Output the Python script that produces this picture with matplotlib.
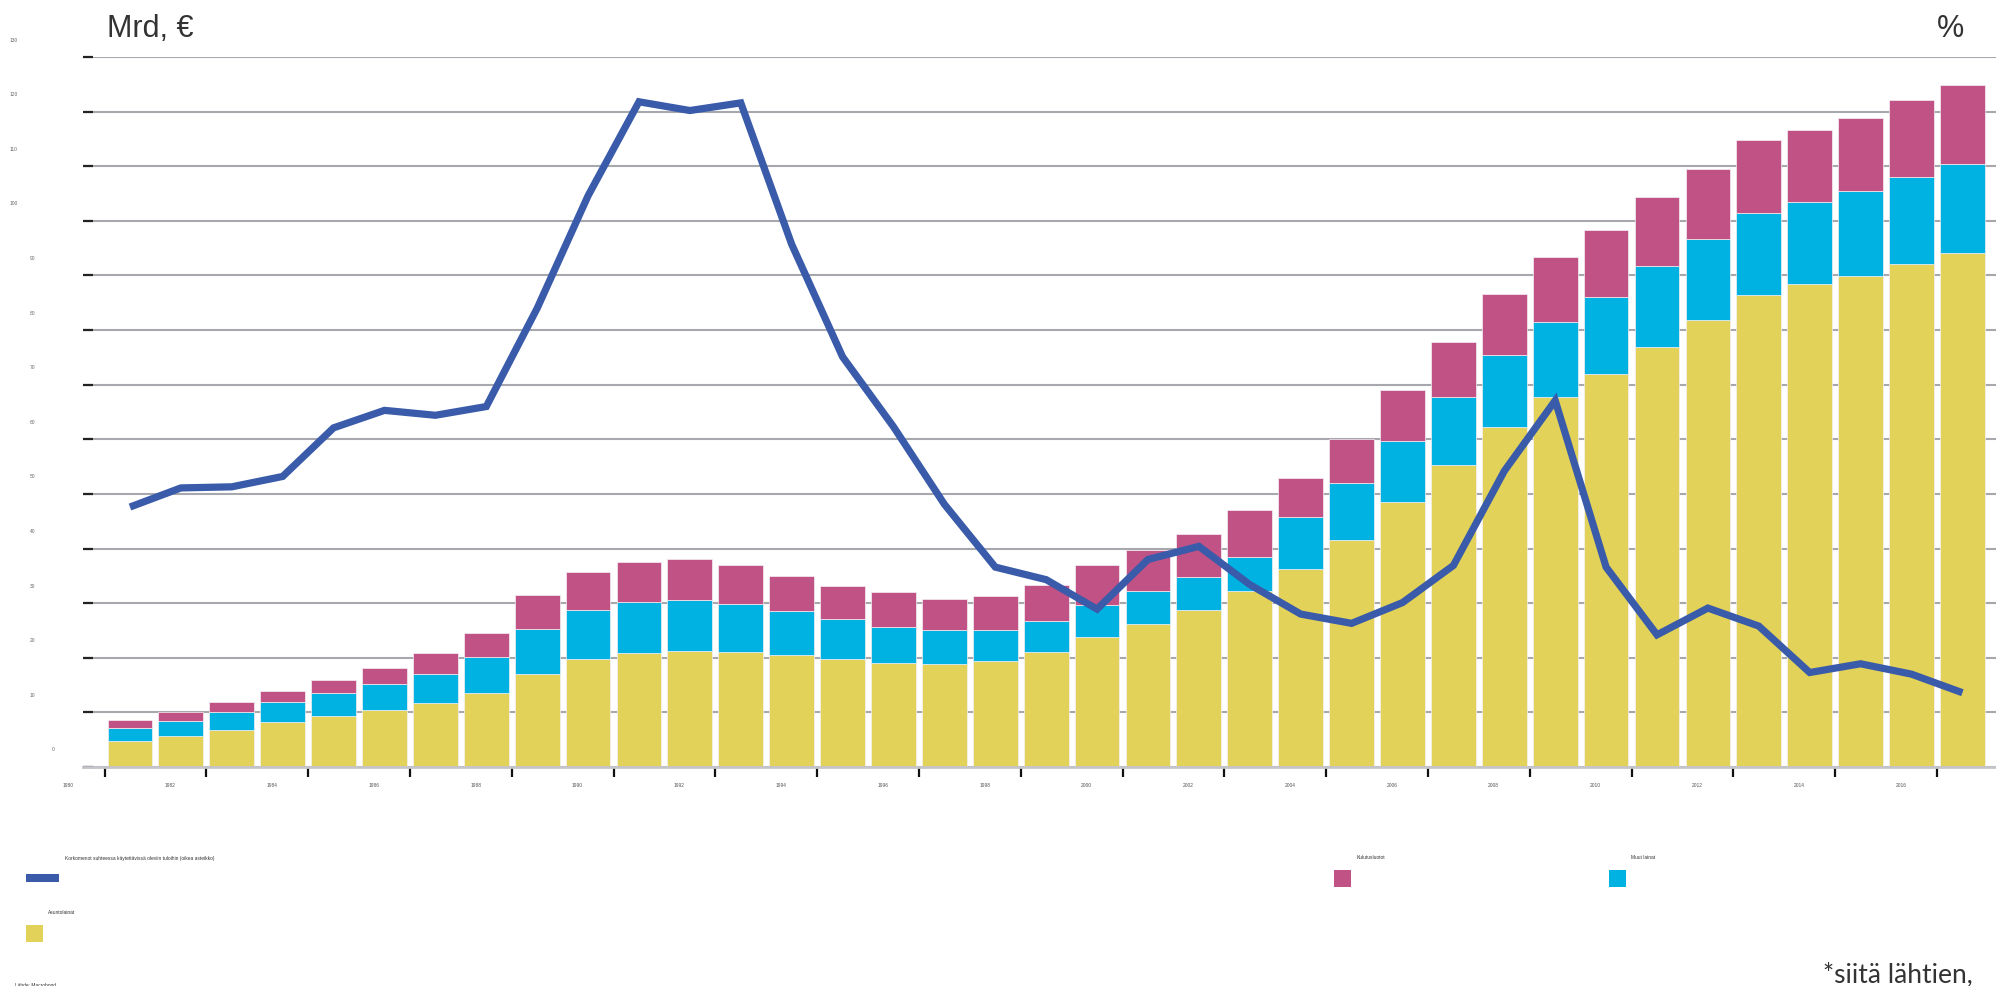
import matplotlib
matplotlib.use("Agg")
import matplotlib.pyplot as plt
import matplotlib.transforms as mtransforms
from matplotlib.patches import Rectangle
import numpy as np

years = list(range(1980, 2017))

# stacked totals (Mrd €)
housing = [4.7, 5.6, 6.7, 8.2, 9.3, 10.5, 11.7, 13.5, 17.0, 19.8, 20.8, 21.2, 21.0, 20.5,
           19.8, 19.1, 18.9, 19.4, 21.0, 23.8, 26.1, 28.7, 32.2, 36.2, 41.5, 48.5, 55.3,
           62.2, 67.7, 72.0, 76.9, 81.8, 86.4, 88.5, 89.9, 92.1, 94.1]
other_top = [7.1, 8.4, 10.0, 11.9, 13.5, 15.2, 17.0, 20.1, 25.2, 28.7, 30.3, 30.6, 29.9, 28.5,
             27.1, 25.7, 25.0, 25.0, 26.8, 29.6, 32.2, 34.8, 38.5, 45.7, 52.0, 59.7, 67.7,
             75.5, 81.4, 86.0, 91.8, 96.7, 101.5, 103.5, 105.4, 108.0, 110.4]
consumer_top = [8.6, 10.1, 11.9, 14.0, 15.9, 18.2, 20.8, 24.5, 31.5, 35.7, 37.6, 38.0, 36.9, 35.0,
                33.1, 32.0, 30.8, 31.3, 33.4, 36.9, 39.7, 42.7, 47.1, 53.0, 60.0, 69.1, 77.9,
                86.6, 93.4, 98.4, 104.4, 109.5, 114.8, 116.7, 118.8, 122.1, 124.9]
other = [t - h for t, h in zip(other_top, housing)]
consumer = [t - o for t, o in zip(consumer_top, other_top)]

# interest expenses vs disposable income (right scale, plotted in the same pixel space)
interest = [47.6, 51.1, 51.3, 53.2, 62.1, 65.3, 64.4, 66.0, 84.0, 104.6, 121.8, 120.2, 121.6, 95.7,
            75.1, 62.3, 48.1, 36.6, 34.3, 28.9, 38.0, 40.4, 33.4, 28.0, 26.3, 30.1, 36.9,
            54.2, 67.1, 36.6, 24.2, 29.1, 25.8, 17.3, 18.9, 17.0, 13.6]

yticks = list(range(0, 140, 10))
xtick_years = list(range(1980, 2018, 2))

c_yellow = "#E2D259"
c_cyan = "#00B2E2"
c_pink = "#C05285"
c_blue = "#3A5BAA"

W, H = 1996, 987
fig = plt.figure(figsize=(W / 100, H / 100), dpi=100)
ax = fig.add_axes([83 / W, 1 - 768 / H, (W - 83) / W, (768 - 58) / H])

x = np.arange(len(years))
bw = 0.88
ax.bar(x, housing, bw, color=c_yellow, edgecolor="#f4f0f4", linewidth=0.5, zorder=2)
ax.bar(x, other, bw, bottom=housing, color=c_cyan, edgecolor="#f4f0f4", linewidth=0.5, zorder=2)
ax.bar(x, consumer, bw, bottom=other_top, color=c_pink, edgecolor="#f4f0f4", linewidth=0.5, zorder=2)
ax.plot(x, interest, color=c_blue, lw=5.2, solid_joinstyle="miter", solid_capstyle="butt", zorder=3)

ax.set_xlim(-0.923, 36.66)
ax.set_ylim(0, 130)
ax.set_axisbelow(True)
ax.yaxis.grid(True, color="#a7a7ae", lw=1.5)
for s in ["left", "right", "top"]:
    ax.spines[s].set_visible(False)
ax.spines["bottom"].set_color("#c4c4ca")
ax.spines["bottom"].set_linewidth(2)

ax.set_yticks(yticks)
ax.tick_params(axis="y", direction="in", length=7, width=1.6, color="#222222", labelleft=False)
px_left = {3: 10, 2: 30, 1: 52}
ytrans = ax.get_yaxis_transform() + mtransforms.ScaledTranslation(0, 0.18, fig.dpi_scale_trans)
for v in yticks:
    lab = str(v)
    xa = (px_left[len(lab)] - 83) / (W - 83)
    ax.text(xa, v, lab, transform=ytrans, fontsize=3.5, color="#666666",
            ha="left", va="center", family="Liberation Sans", clip_on=False)

xt = [y - 1980 - 0.5 for y in xtick_years]
ax.set_xticks(xt)
ax.set_xticklabels([str(y) for y in xtick_years], fontsize=3.5, color="#555555",
                   family="Liberation Sans")
ax.tick_params(axis="x", direction="out", length=7, width=1.6, color="#111111", pad=3.5)
off = mtransforms.ScaledTranslation(-0.36, 0, fig.dpi_scale_trans)
for lab in ax.get_xticklabels():
    lab.set_transform(lab.get_transform() + off)

# header texts
fig.text(107 / W, 1 - 37 / H, "Mrd, €", fontsize=22, color="#333333", family="Liberation Sans")
fig.text(1937 / W, 1 - 37 / H, "%", fontsize=22, color="#333333", family="Liberation Sans")
fig.text(1823 / W, 1 - 982 / H, "*siitä lähtien,", fontsize=19, color="#333333", family="Lato")

# legend
def rect(px, py, pw, ph, color):
    fig.add_artist(Rectangle((px / W, 1 - (py + ph) / H), pw / W, ph / H,
                             transform=fig.transFigure, color=color, lw=0))

def label(px, py, s):
    fig.text(px / W, 1 - py / H, s, fontsize=3.5, color="#333333", ha="left", va="center",
             family="Liberation Sans")

rect(26, 875, 33, 8, c_blue)
label(65, 859, "Korkomenot suhteessa käytettävissä oleviin tuloihin (oikea asteikko)")
rect(26, 926, 17, 17, c_yellow)
label(48, 913, "Asuntolainat")
rect(1334, 871, 17, 17, c_pink)
label(1357, 858, "Kulutusluotot")
rect(1609, 871, 17, 17, c_cyan)
label(1631, 858, "Muut lainat")
label(15, 986, "Lähde: Macrobond")

fig.savefig("out.png", dpi=100)
